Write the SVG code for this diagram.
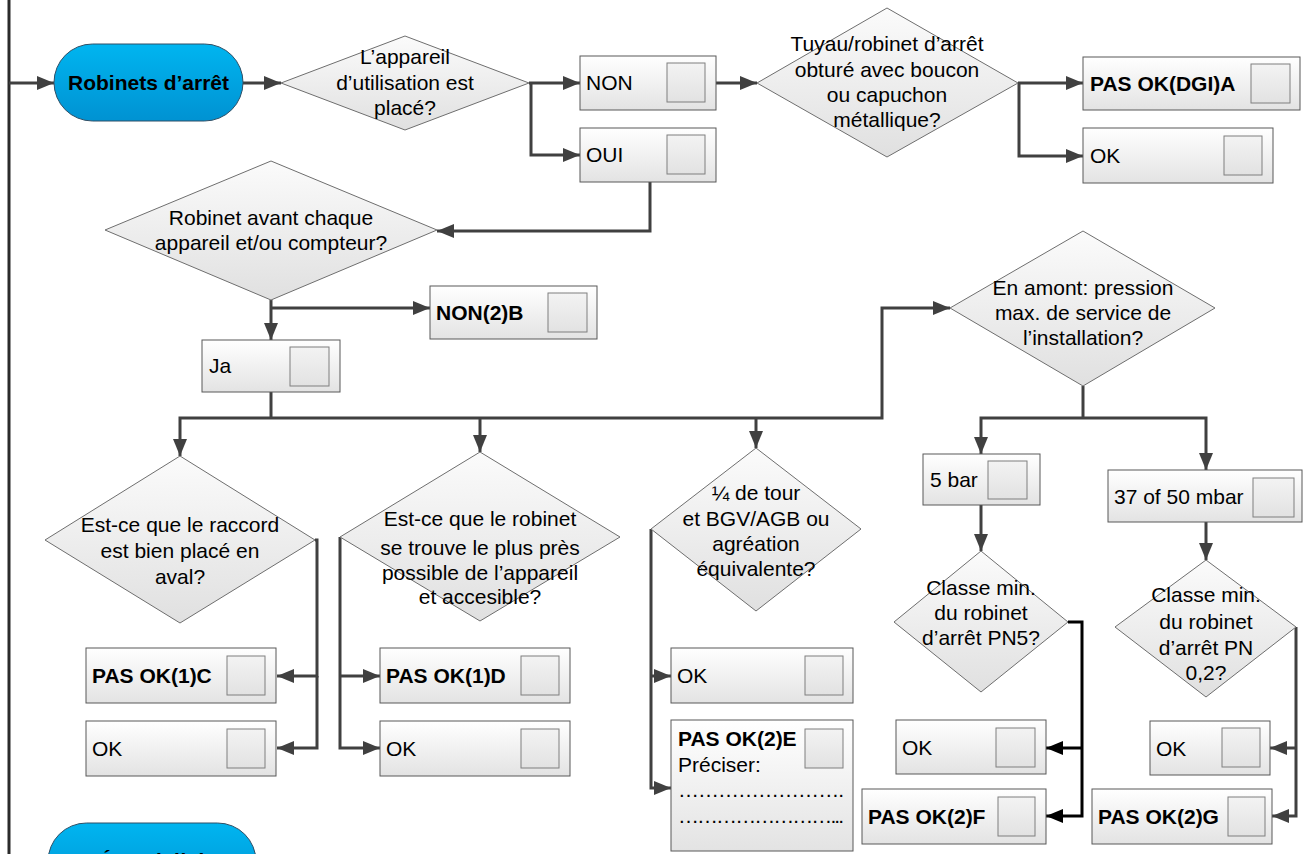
<svg xmlns="http://www.w3.org/2000/svg" width="1311" height="854" viewBox="0 0 1311 854">
<defs>
<linearGradient id="gBox" x1="0" y1="0" x2="0" y2="1"><stop offset="0" stop-color="#ffffff"/><stop offset="1" stop-color="#e3e3e3"/></linearGradient>
<linearGradient id="gDia" x1="0" y1="0" x2="0" y2="1"><stop offset="0" stop-color="#fbfbfb"/><stop offset="1" stop-color="#e0e0e0"/></linearGradient>
<linearGradient id="gCb" x1="0" y1="0" x2="0" y2="1"><stop offset="0" stop-color="#f3f3f3"/><stop offset="1" stop-color="#e2e2e2"/></linearGradient>
<linearGradient id="gPill" x1="0" y1="0" x2="0" y2="1"><stop offset="0" stop-color="#00b5f0"/><stop offset="1" stop-color="#0092d2"/></linearGradient>
<marker id="ah" markerUnits="userSpaceOnUse" viewBox="0 0 17 14" refX="17" refY="7" markerWidth="17" markerHeight="14" orient="auto"><path d="M0,0 L17,7 L0,14 z" fill="#404040"/></marker>
<marker id="ahk" markerUnits="userSpaceOnUse" viewBox="0 0 17 14" refX="17" refY="7" markerWidth="17" markerHeight="14" orient="auto"><path d="M0,0 L17,7 L0,14 z" fill="#000000"/></marker>
</defs>
<style>
.box{fill:url(#gBox);stroke:#595959;stroke-width:1}
.cb{fill:url(#gCb);stroke:#7f7f7f;stroke-width:1}
.dia{fill:url(#gDia);stroke:#6e6e6e;stroke-width:1}
.pill{fill:url(#gPill);stroke:#2f4f66;stroke-width:1}
text{font-family:"Liberation Sans",Arial,sans-serif;font-size:21px;fill:#000}
.c{text-anchor:middle}
.b{font-weight:bold}
.con{fill:none;stroke:#404040;stroke-width:3}
.conk{fill:none;stroke:#000;stroke-width:3;marker-end:url(#ahk)}
.arr{marker-end:url(#ah)}
.main{fill:none;stroke:#2b2b2b;stroke-width:3}
</style>

<g id="connectors">
<path class="main" d="M9,0 V854"/>
<path class="con arr" d="M9,83 H54"/>
<path class="con arr" d="M243,83 H281"/>
<path class="con arr" d="M529,83 H580"/>
<path class="con arr" d="M531,83 V155 H580"/>
<path class="con arr" d="M716,83 H757"/>
<path class="con arr" d="M1018,83 H1083"/>
<path class="con arr" d="M1019,83 V156 H1083"/>
<path class="con arr" d="M650,182 V231 H437"/>
<path class="con arr" d="M271,300 V340"/>
<path class="con arr" d="M271,308 H430"/>
<path class="con" d="M271,392 V418"/>
<path class="con arr" d="M271,418 H180 V456"/>
<path class="con arr" d="M271,418 H882 V308 H950"/>
<path class="con arr" d="M480,418 V452"/>
<path class="con arr" d="M756,418 V448"/>
<path class="con" d="M1083,386 V418"/>
<path class="con arr" d="M1083,418 H981 V454"/>
<path class="con arr" d="M1083,418 H1206 V470"/>
<path class="con arr" d="M981,505 V551"/>
<path class="con arr" d="M1206,522 V560"/>
<path class="con arr" d="M315,540 H317 V676 H277"/>
<path class="con arr" d="M317,676 V748 H277"/>
<path class="con arr" d="M340,537 V748 H380"/>
<path class="con arr" d="M340,676 H380"/>
<path class="con arr" d="M651,529 V788 H671"/>
<path class="con arr" d="M652,676 H671"/>
<path class="conk" d="M1068,622 H1082 V816 H1046"/>
<path class="conk" d="M1082,748 H1046"/>
<path class="con arr" d="M1296,627 V816 H1272"/>
<path class="con arr" d="M1296,748 H1270"/>
<path class="con arr" d="M9,862 H48"/>
</g>

<g id="start">
<rect class="pill" x="54" y="44" width="189" height="77" rx="38.5"/>
<text class="c b" x="148.5" y="90">Robinets d’arrêt</text>
</g>

<g id="q1">
<polygon class="dia" points="281,83 405,36 529,83 405,130"/>
<text class="c" x="405" y="64">L’appareil</text>
<text class="c" x="405" y="89.5">d’utilisation est</text>
<text class="c" x="405" y="115">placé?</text>
</g>

<g id="non1">
<rect class="box" x="580" y="56" width="136" height="54"/>
<rect class="cb" x="667" y="63" width="38" height="39"/>
<text x="586" y="90">NON</text>
</g>

<g id="oui1">
<rect class="box" x="580" y="128" width="136" height="54"/>
<rect class="cb" x="667" y="135" width="38" height="39"/>
<text x="586" y="162">OUI</text>
</g>

<g id="q2">
<polygon class="dia" points="757,83 887,8 1018,83 887,157"/>
<text class="c" x="887" y="51">Tuyau/robinet d’arrêt</text>
<text class="c" x="887" y="77">obturé avec boucon</text>
<text class="c" x="887" y="102">ou capuchon</text>
<text class="c" x="887" y="127">métallique?</text>
</g>

<g id="pasokA">
<rect class="box" x="1083" y="57" width="217" height="53"/>
<rect class="cb" x="1251" y="64" width="39" height="39"/>
<text class="b" x="1090" y="91">PAS OK(DGI)A</text>
</g>

<g id="okA">
<rect class="box" x="1083" y="128" width="190" height="55"/>
<rect class="cb" x="1224" y="136" width="38" height="39"/>
<text x="1090" y="163">OK</text>
</g>

<g id="q3">
<polygon class="dia" points="105,230 271,161 437,230 271,300"/>
<text class="c" x="271" y="225">Robinet avant chaque</text>
<text class="c" x="271" y="250">appareil et/ou compteur?</text>
</g>

<g id="nonB">
<rect class="box" x="430" y="286" width="167" height="53"/>
<rect class="cb" x="548" y="293" width="39" height="39"/>
<text class="b" x="436" y="320">NON(2)B</text>
</g>

<g id="ja">
<rect class="box" x="202" y="340" width="138" height="52"/>
<rect class="cb" x="290" y="347" width="39" height="39"/>
<text x="209" y="373">Ja</text>
</g>

<g id="q7">
<polygon class="dia" points="950,308 1083,231 1215,308 1083,386"/>
<text class="c" x="1083" y="295">En amont: pression</text>
<text class="c" x="1083" y="320">max. de service de</text>
<text class="c" x="1083" y="345">l’installation?</text>
</g>

<g id="q4">
<polygon class="dia" points="45,540 180,456 315,540 180,623"/>
<text class="c" x="180" y="532">Est-ce que le raccord</text>
<text class="c" x="180" y="558">est bien placé en</text>
<text class="c" x="180" y="584">aval?</text>
</g>

<g id="q5">
<polygon class="dia" points="340,537 480,452 620,537 480,621"/>
<text class="c" x="480" y="526">Est-ce que le robinet</text>
<text class="c" x="480" y="555">se trouve le plus près</text>
<text class="c" x="480" y="580">possible de l’appareil</text>
<text class="c" x="480" y="604">et accesible?</text>
</g>

<g id="q6">
<polygon class="dia" points="651,529 756,448 861,529 756,611"/>
<text class="c" x="756" y="500">¼ de tour</text>
<text class="c" x="756" y="526">et BGV/AGB ou</text>
<text class="c" x="756" y="551">agréation</text>
<text class="c" x="756" y="576">équivalente?</text>
</g>

<g id="bar5">
<rect class="box" x="923" y="454" width="117" height="51"/>
<rect class="cb" x="988" y="461" width="39" height="38"/>
<text x="930" y="487">5 bar</text>
</g>

<g id="mbar">
<rect class="box" x="1108" y="470" width="194" height="52"/>
<rect class="cb" x="1253" y="478" width="41" height="39"/>
<text x="1114" y="504">37 of 50 mbar</text>
</g>

<g id="q8">
<polygon class="dia" points="894,622 981,551 1068,622 981,692"/>
<text class="c" x="981" y="595">Classe min.</text>
<text class="c" x="981" y="620">du robinet</text>
<text class="c" x="981" y="645">d’arrêt PN5?</text>
</g>

<g id="q9">
<polygon class="dia" points="1115,627 1206,560 1296,627 1206,697"/>
<text class="c" x="1206" y="602">Classe min.</text>
<text class="c" x="1206" y="629">du robinet</text>
<text class="c" x="1206" y="655">d’arrêt PN</text>
<text class="c" x="1206" y="680">0,2?</text>
</g>

<g id="pasokC">
<rect class="box" x="86" y="648" width="190" height="55"/>
<rect class="cb" x="227" y="656" width="38" height="39"/>
<text class="b" x="92" y="683">PAS OK(1)C</text>
</g>

<g id="okC">
<rect class="box" x="86" y="721" width="190" height="55"/>
<rect class="cb" x="227" y="729" width="38" height="39"/>
<text x="92" y="756">OK</text>
</g>

<g id="pasokD">
<rect class="box" x="380" y="648" width="190" height="55"/>
<rect class="cb" x="521" y="656" width="38" height="39"/>
<text class="b" x="386" y="683">PAS OK(1)D</text>
</g>

<g id="okD">
<rect class="box" x="380" y="721" width="190" height="55"/>
<rect class="cb" x="521" y="729" width="38" height="39"/>
<text x="386" y="756">OK</text>
</g>

<g id="okE">
<rect class="box" x="671" y="648" width="182" height="55"/>
<rect class="cb" x="805" y="656" width="38" height="39"/>
<text x="677" y="683">OK</text>
</g>

<g id="pasokE">
<rect class="box" x="671" y="720" width="182" height="131"/>
<rect class="cb" x="805" y="729" width="38" height="39"/>
<text class="b" x="678" y="746">PAS OK(2)E</text>
<text x="678" y="772">Préciser:</text>
<text x="678" y="797" textLength="166" lengthAdjust="spacing">…………………….</text>
<text x="678" y="823" textLength="166" lengthAdjust="spacing">……………………...</text>
</g>

<g id="okF">
<rect class="box" x="896" y="720" width="150" height="54"/>
<rect class="cb" x="996" y="728" width="39" height="39"/>
<text x="902" y="755">OK</text>
</g>

<g id="pasokF">
<rect class="box" x="862" y="789" width="184" height="55"/>
<rect class="cb" x="998" y="797" width="37" height="39"/>
<text class="b" x="868" y="824">PAS OK(2)F</text>
</g>

<g id="okG">
<rect class="box" x="1150" y="721" width="120" height="54"/>
<rect class="cb" x="1222" y="728" width="38" height="39"/>
<text x="1156" y="756">OK</text>
</g>

<g id="pasokG">
<rect class="box" x="1092" y="789" width="180" height="55"/>
<rect class="cb" x="1228" y="797" width="37" height="39"/>
<text class="b" x="1098" y="824">PAS OK(2)G</text>
</g>

<g id="end">
<rect class="pill" x="48" y="823" width="208" height="77" rx="38.5"/>
<text class="c b" x="152" y="868">Étanchéité</text>
</g>
</svg>
